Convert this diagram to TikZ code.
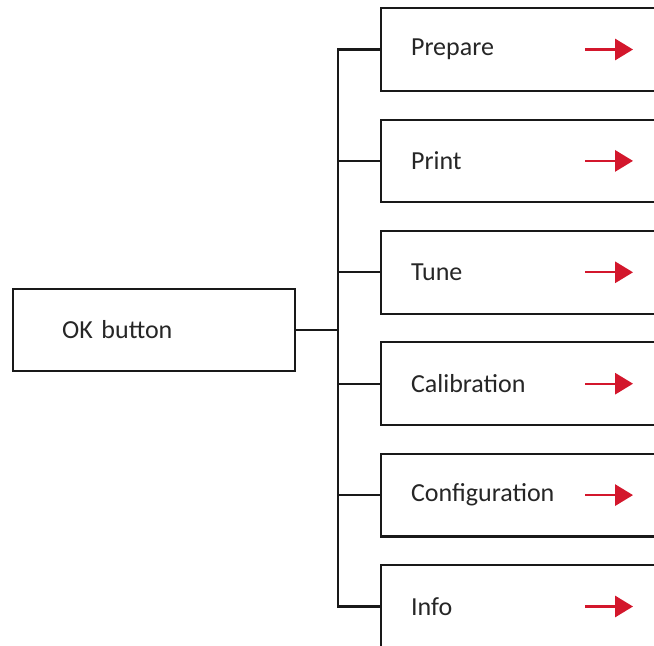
\documentclass[tikz,border=0pt]{standalone}
\usepackage{fontspec}
\setmainfont{Carlito}
\usetikzlibrary{arrows.meta}
\definecolor{menured}{HTML}{D3172C}
\definecolor{menutext}{HTML}{262626}

\begin{document}
\begin{tikzpicture}[x=0.75pt,y=-0.75pt]
    \tikzset{%
        LineStyle/.style = {line width=1.6pt, black!90},
        BoxStyle/.style = {%
            draw, LineStyle,
            anchor = west,
            minimum width = 240pt,
            minimum height = 62pt,
            inner xsep = 22.5pt,
            text width = 195pt,
            align = left,
            text = menutext,
            font = \fontsize{19.5}{22}\selectfont},
        ArrowStyle/.style = {%
            menured, line width=1.6pt,
            -{Triangle[length=13.5pt,width=16pt]}}}
    \useasboundingbox (0,0) rectangle (654,646);
    \clip (0,0) rectangle (654,646);
    \node[BoxStyle, minimum width=211.5pt, minimum height=61.5pt,
          inner xsep=36.75pt, text width=138pt] (ok) at (12,330) {OK button};
    \coordinate (trunk) at (338,0);
    % menu entries
    \foreach \name/\txt [count=\i from 0] in {prepare/Prepare, print/Print,
        tune/Tune, calib/Calibration, config/Configuration, info/Info} {
        \node[BoxStyle] (\name) at (380,49.5+111.4*\i) {\txt};
        \draw[LineStyle] (trunk |- \name.west) -- (\name.west);
        \draw[ArrowStyle] ([xshift=153.75pt]\name.west) -- ++(48,0);
    }
    \draw[LineStyle] (prepare.west) -- (trunk |- prepare.west)
        -- (trunk |- info.west) -- (info.west);
    \draw[LineStyle] (ok.east) -- (trunk |- ok.east);
\end{tikzpicture}
\end{document}
